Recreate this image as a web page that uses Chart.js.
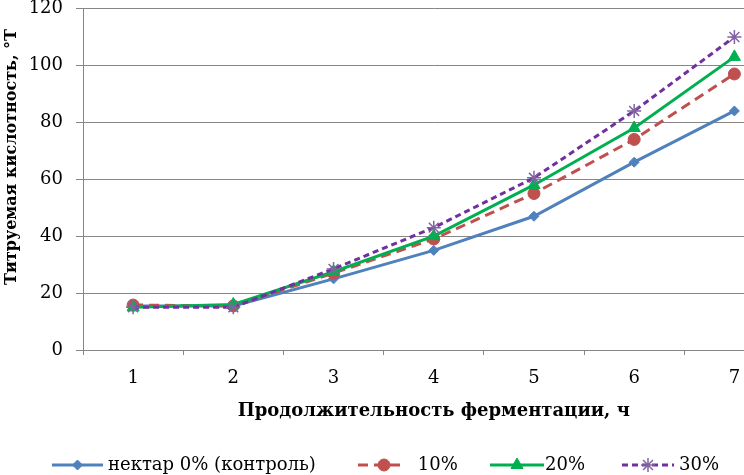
<!DOCTYPE html>
<html>
<head>
<meta charset="utf-8">
<script src="https://cdn.jsdelivr.net/npm/chart.js@4.4.1/dist/chart.umd.min.js"></script>
<style>
  html, body { margin: 0; padding: 0; background: #fff; overflow: hidden; }
  #wrap { width: 793px; height: 475px; }
</style>
</head>
<body>
<div id="wrap"><canvas id="acid-chart" width="793" height="475"></canvas></div>
<script>
  'use strict';

  // data
  const hours = ['1', '2', '3', '4', '5', '6', '7'];
  const control = [15.5, 15.5, 25, 35, 47, 66, 84];
  const nectar10 = [15.8, 15.5, 27, 39, 55, 74, 97];
  const nectar20 = [15, 16, 27.5, 40, 58, 78, 103];
  const nectar30 = [15, 15, 28.5, 43, 60.5, 84, 110];
  const yTicks = [0, 20, 40, 60, 80, 100, 120];
  const seriesNames = ['нектар 0% (контроль)', ' 10%', '20%', '30%'];
  const yTitle = 'Титруемая кислотность, °Т';
  const xTitle = 'Продолжительность ферментации, ч';

  const serif = '"DejaVu Serif", "Liberation Serif", serif';
  const gridColor = '#868686';

  const ctx = document.getElementById('acid-chart');

  // y title drawn by hand, it sits a bit above the middle of the plot
  const yTitlePlugin = {
    id: 'yTitle',
    afterDraw(chart) {
      const c = chart.ctx;
      c.save();
      c.translate(12, 157);
      c.rotate(-Math.PI / 2);
      c.fillStyle = '#000';
      c.font = 'bold 16px ' + serif;
      c.textAlign = 'center';
      c.textBaseline = 'middle';
      c.fillText(yTitle, 0, 0);
      c.restore();
    }
  };

  // legend drawn by hand: line with the marker in the middle, then the text
  const legendPlugin = {
    id: 'lineLegend',
    afterDraw(chart) {
      const c = chart.ctx;
      const y = 465;
      const lineX = [52, 358, 490, 622];
      const lineW = [51, 42, 54, 52];
      const textX = [108, 412, 545, 679];
      c.save();
      chart.data.datasets.forEach((ds, i) => {
        c.strokeStyle = ds.borderColor;
        c.lineWidth = ds.borderWidth;
        c.setLineDash(ds.borderDash || []);
        c.beginPath();
        c.moveTo(lineX[i], y);
        c.lineTo(lineX[i] + lineW[i], y);
        c.stroke();
        c.setLineDash([]);
        c.fillStyle = ds.pointBackgroundColor;
        c.strokeStyle = ds.pointBorderColor;
        c.lineWidth = ds.pointBorderWidth;
        Chart.helpers.drawPoint(c, {
          pointStyle: ds.pointStyle,
          radius: ds.pointRadius,
          rotation: 0,
          borderWidth: ds.pointBorderWidth
        }, lineX[i] + lineW[i] / 2 + (i === 1 ? 5 : 0), y);
        c.fillStyle = '#000';
        c.font = '18px ' + serif;
        c.textBaseline = 'middle';
        c.textAlign = 'left';
        c.fillText(ds.label, textX[i], y);
      });
      c.restore();
    }
  };

  new Chart(ctx, {
    type: 'line',
    data: {
      labels: hours,
      datasets: [
        {
          label: seriesNames[0],
          data: control,
          borderColor: '#4F81BD',
          borderWidth: 3,
          pointStyle: 'rectRot',
          pointRadius: 5,
          pointBackgroundColor: '#4F81BD',
          pointBorderColor: '#4F81BD',
          pointBorderWidth: 1,
          order: 4
        },
        {
          label: seriesNames[1],
          data: nectar10,
          borderColor: '#C0504D',
          borderWidth: 3,
          borderDash: [10, 6],
          pointStyle: 'circle',
          pointRadius: 6,
          pointBackgroundColor: '#C0504D',
          pointBorderColor: '#C0504D',
          pointBorderWidth: 1,
          order: 3
        },
        {
          label: seriesNames[2],
          data: nectar20,
          borderColor: '#00B050',
          borderWidth: 3,
          pointStyle: 'triangle',
          pointRadius: 7,
          pointBackgroundColor: '#00B050',
          pointBorderColor: '#00B050',
          pointBorderWidth: 1,
          order: 2
        },
        {
          label: seriesNames[3],
          data: nectar30,
          borderColor: '#7030A0',
          borderWidth: 3,
          borderDash: [6, 4],
          pointStyle: 'star',
          pointRadius: 7,
          pointBackgroundColor: '#8064A2',
          pointBorderColor: '#8064A2',
          pointBorderWidth: 1.5,
          order: 1
        }
      ]
    },
    options: {
      responsive: false,
      animation: false,
      events: [],
      layout: { padding: { left: 0, right: 1, top: 7, bottom: 30 } },
      elements: { line: { tension: 0 } },
      scales: {
        x: {
          offset: true,
          afterFit(scale) {
            scale.height = 95;
            scale.paddingLeft = 0;
            scale.paddingRight = 0;
          },
          grid: {
            offset: true,
            drawOnChartArea: false,
            drawTicks: true,
            tickLength: 5,
            color: gridColor
          },
          border: { color: gridColor, width: 1 },
          ticks: {
            color: '#000',
            padding: 13,
            font: { family: serif, size: 18 }
          },
          title: {
            display: true,
            text: xTitle,
            color: '#000',
            padding: { top: 0, bottom: 23 },
            font: { family: serif, size: 18, weight: 'bold' }
          }
        },
        y: {
          min: 0,
          max: 120,
          afterFit(scale) {
            scale.width = 83;
            scale.paddingTop = 0;
            scale.paddingBottom = 0;
          },
          afterBuildTicks(scale) { scale.ticks = yTicks.map(v => ({ value: v })); },
          grid: {
            color: gridColor,
            drawTicks: true,
            tickLength: 7
          },
          border: { color: gridColor, width: 1 },
          ticks: {
            color: '#000',
            padding: 13,
            font: { family: serif, size: 18 }
          },
          title: { display: false }
        }
      },
      plugins: {
        legend: { display: false },
        tooltip: { enabled: false }
      }
    },
    plugins: [legendPlugin, yTitlePlugin]
  });
</script>
</body>
</html>
